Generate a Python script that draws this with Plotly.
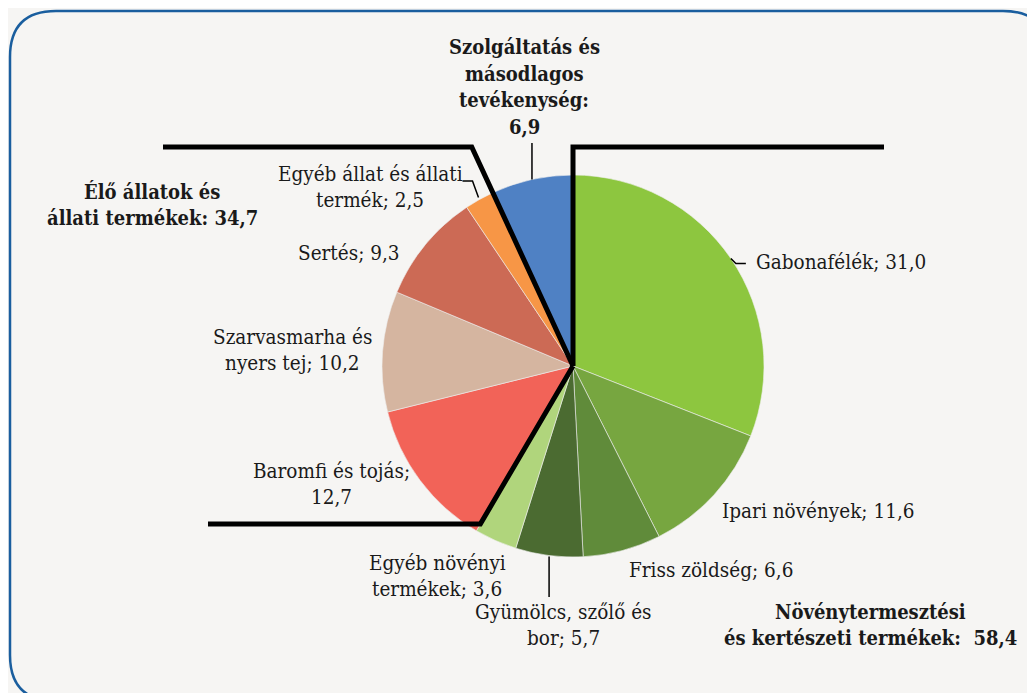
import math
import plotly.graph_objects as go

# ---- data ----
labels = ["Gabonafélék", "Ipari növények", "Friss zöldség", "Gyümölcs, szőlő és bor",
          "Egyéb növényi termékek", "Baromfi és tojás", "Szarvasmarha és nyers tej",
          "Sertés", "Egyéb állat és állati termék", "Szolgáltatás és másodlagos tevékenység"]
values = [31.0, 11.6, 6.6, 5.7, 3.6, 12.7, 10.2, 9.3, 2.5, 6.9]
label_lines = [["Gabonafélék; 31,0"], ["Ipari növények; 11,6"], ["Friss zöldség; 6,6"],
               ["Gyümölcs, szőlő és", "bor; 5,7"], ["Egyéb növényi", "termékek; 3,6"],
               ["Baromfi és tojás;", "12,7"], ["Szarvasmarha és", "nyers tej; 10,2"],
               ["Sertés; 9,3"], ["Egyéb állat és állati", "termék; 2,5"],
               ["Szolgáltatás és", "másodlagos", "tevékenység:", "6,9"]]
group_lines = [["Élő állatok és", "állati termékek: 34,7"],
               ["Növénytermesztési", "és kertészeti termékek:  58,4"]]

colors = ["#8DC63F", "#77A640", "#608B3A", "#4B6B31", "#B0D57C",
          "#F26358", "#D5B5A0", "#CC6A55", "#F79646", "#4F81C4"]

OFF = 8  # page body margin
W, H = 1027, 685
CX, CY, R = 573, 366, 191
FONT = "DejaVu Serif Condensed, DejaVu Serif"
LINE = 26.5


def X(px):
    return (px - OFF) / W


def Y(py):
    return 1 - (py - OFF) / H


total = sum(values)
cum = [0]
for v in values:
    cum.append(cum[-1] + v)


def ang(frac):
    return 2 * math.pi * frac


def edge(frac, rr=R):
    a = ang(frac)
    return CX + rr * math.sin(a), CY - rr * math.cos(a)


def mid(i):
    return (cum[i] + values[i] / 2) / total


def boundary_to_y(frac, yline):
    a = ang(frac)
    dy = -math.cos(a)
    t = (yline - CY) / dy
    return CX + math.sin(a) * t, yline


fig = go.Figure(go.Pie(
    labels=labels, values=values, sort=False, direction="clockwise", rotation=0,
    marker=dict(colors=colors, line=dict(color="#eeeeee", width=0.6)),
    textinfo="none", hoverinfo="label+value",
    domain=dict(x=[X(CX - R), X(CX + R)], y=[Y(CY + R), Y(CY - R)]),
))

shapes = []


def path(pts, width, color="black"):
    d = "M " + " L ".join(f"{X(px):.5f},{Y(py):.5f}" for px, py in pts)
    shapes.append(dict(type="path", xref="paper", yref="paper", path=d,
                       line=dict(color=color, width=width), layer="above"))


# rounded border
x0, x1, y0, y1, rc = 10, 1049, 11, 701, 46
rx, ry = rc, rc
d = (f"M {X(x0+rx)},{Y(y0)} L {X(x1-rx)},{Y(y0)} Q {X(x1)},{Y(y0)} {X(x1)},{Y(y0+ry)} "
     f"L {X(x1)},{Y(y1-ry)} Q {X(x1)},{Y(y1)} {X(x1-rx)},{Y(y1)} "
     f"L {X(x0+rx)},{Y(y1)} Q {X(x0)},{Y(y1)} {X(x0)},{Y(y1-ry)} "
     f"L {X(x0)},{Y(y0+ry)} Q {X(x0)},{Y(y0)} {X(x0+rx)},{Y(y0)} Z")
shapes.append(dict(type="path", xref="paper", yref="paper", path=d,
                   line=dict(color="#1A5E9E", width=2.5), layer="below"))

# thick group separator lines
fA = cum[9] / total
pA = boundary_to_y(fA, 147)
path([(163, 147), pA, (CX, CY)], 5)
path([(CX, CY), (CX, 147), (884, 147)], 5)
fC = cum[5] / total
pC = boundary_to_y(fC, 524)
path([(208, 524), pC, (CX, CY)], 5)

# leader lines
ex, ey = edge(mid(0))
path([(ex, ey), (ex + 5, ey + 5), (ex + 15, ey + 5)], 1.5)
ex, ey = edge(mid(3))
path([(ex, ey + 1), (ex, 597)], 1.5)
ex, ey = edge(mid(8))
path([(ex - 1, ey - 2), (ex - 7, 181), (ex - 17, 181)], 1.5)
ex, ey = edge(mid(9))
path([(ex, ey), (ex, 143)], 1.5)

annotations = []


def ann(lines, px, py, xanchor="center", size=20.5, bold=False):
    n = len(lines)
    for k, t in enumerate(lines):
        yy = py + (k - (n - 1) / 2) * LINE
        annotations.append(dict(text=f"<b>{t}</b>" if bold else t, x=X(px), y=Y(yy),
                                xref="paper", yref="paper",
                                xanchor=xanchor, yanchor="middle", showarrow=False,
                                font=dict(family=FONT, size=size, color="#1a1a1a")))


ann(label_lines[0], 754, 262, "left")
ann(label_lines[1], 720, 511, "left")
ann(label_lines[2], 627, 570, "left")
ann(label_lines[3], 563, 625)
ann(label_lines[4], 437, 576)
ann(label_lines[5], 331, 484)
ann(label_lines[6], 292, 350)
ann(label_lines[7], 349, 253)
ann(label_lines[8], 370, 187)
ann(label_lines[9], 524, 87, size=20, bold=True)
ann(group_lines[0], 152, 205, size=20, bold=True)
ann(group_lines[1], 870, 625, size=20, bold=True)

fig.update_layout(width=W, height=H, margin=dict(l=0, r=0, t=0, b=0),
                  paper_bgcolor="#F6F5F3", plot_bgcolor="#F6F5F3",
                  font=dict(family=FONT),
                  showlegend=False, shapes=shapes, annotations=annotations)

fig.write_html("out.html")
